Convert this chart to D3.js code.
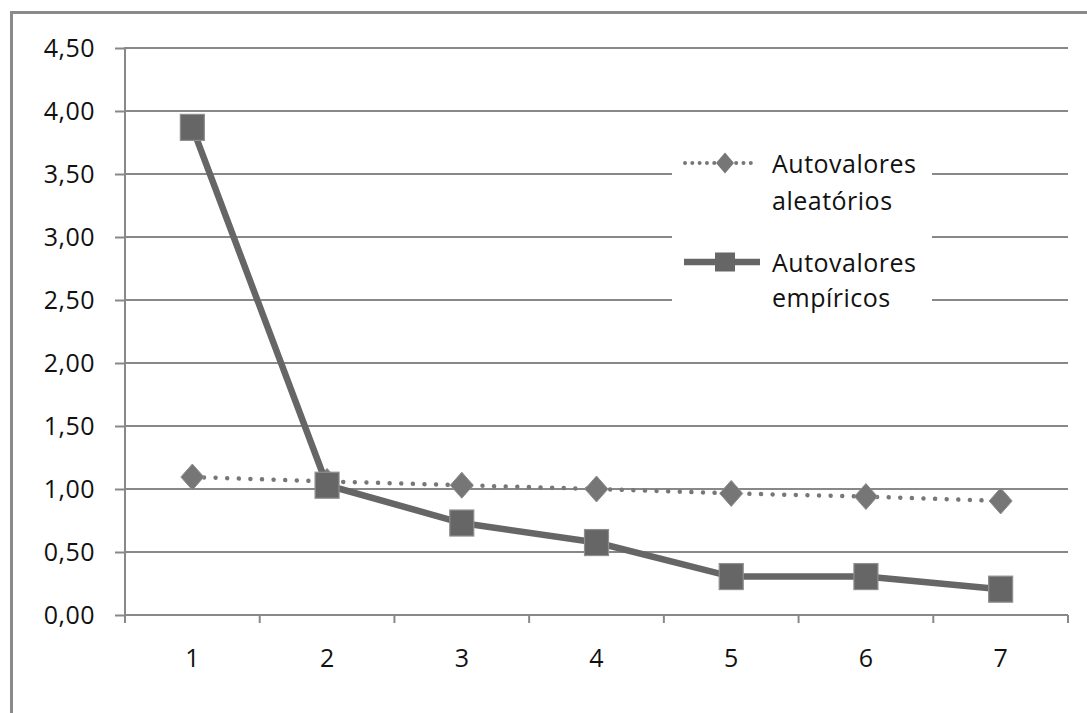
<!DOCTYPE html>
<html>
<head>
<meta charset="utf-8">
<script src="https://cdn.jsdelivr.net/npm/d3@7/dist/d3.min.js"></script>
<style>
  html, body { margin: 0; padding: 0; background: #fff; }
  svg { display: block; }
  text { font-family: "Open Sans", sans-serif; fill: #111; }
</style>
</head>
<body>
<svg id="chart" width="1087" height="713"></svg>
<script>
// ---- data ----
const categories = ["1", "2", "3", "4", "5", "6", "7"];
const randomValues = [1.095, 1.06, 1.03, 1.00, 0.965, 0.94, 0.905];   // Autovalores aleatórios
const empiricalValues = [3.87, 1.03, 0.73, 0.575, 0.305, 0.305, 0.205]; // Autovalores empíricos
const yTicks = [0, 0.5, 1, 1.5, 2, 2.5, 3, 3.5, 4, 4.5];
const legendLabels = [["Autovalores", "aleatórios"], ["Autovalores", "empíricos"]];

// ---- setup ----
const svg = d3.select("#chart");
const W = 1087, H = 713;
const plot = { left: 125, right: 1068, top: 48, bottom: 615 };
const gridColor = "#888888";
const seriesColor = "#666666";

const x = d3.scaleBand().domain(categories).range([plot.left, plot.right]);
const y = d3.scaleLinear().domain([0, 4.5]).range([plot.bottom, plot.top]);

const locale = d3.formatLocale({ decimal: ",", thousands: ".", grouping: [3], currency: ["", ""] });
const fmt = locale.format(".2f");

// outer border (only top/left visible in frame)
svg.append("rect")
  .attr("x", 11.5).attr("y", 12.5)
  .attr("width", W + 20).attr("height", H + 20)
  .attr("fill", "none").attr("stroke", "#8a8a8a").attr("stroke-width", 3);

// gridlines
svg.append("g").selectAll("line")
  .data(yTicks)
  .join("line")
  .attr("x1", plot.left).attr("x2", plot.right)
  .attr("y1", d => y(d)).attr("y2", d => y(d))
  .attr("stroke", gridColor).attr("stroke-width", 2);

// y axis
const yAxis = svg.append("g")
  .attr("transform", `translate(${plot.left},0)`)
  .call(d3.axisLeft(y).tickValues(yTicks).tickFormat(fmt).tickSize(10).tickPadding(20));
yAxis.select(".domain").remove();
yAxis.selectAll(".tick line").attr("stroke", gridColor).attr("stroke-width", 2);
yAxis.selectAll(".tick text")
  .attr("font-size", 25).attr("letter-spacing", 0.5)
  .attr("font-family", "Open Sans, sans-serif").attr("fill", "#111");
svg.append("line")
  .attr("x1", plot.left).attr("x2", plot.left)
  .attr("y1", y(4.5) - 1).attr("y2", plot.bottom + 8)
  .attr("stroke", gridColor).attr("stroke-width", 2);

// x axis
const xAxis = svg.append("g")
  .attr("transform", `translate(0,${plot.bottom})`)
  .call(d3.axisBottom(x).tickSize(0).tickPadding(34));
xAxis.select(".domain").remove();
xAxis.selectAll(".tick text")
  .attr("font-size", 25)
  .attr("font-family", "Open Sans, sans-serif").attr("fill", "#111");
// category boundary ticks
const boundaries = categories.map(c => x(c)).concat([x(categories[categories.length - 1]) + x.bandwidth()]);
svg.append("g").selectAll("line")
  .data(boundaries)
  .join("line")
  .attr("x1", d => d).attr("x2", d => d)
  .attr("y1", plot.bottom).attr("y2", plot.bottom + 8)
  .attr("stroke", gridColor).attr("stroke-width", 2);

const cx = c => x(c) + x.bandwidth() / 2;

// random series (dotted + diamonds)
const line = d3.line().x((d, i) => cx(categories[i])).y(d => y(d));
svg.append("path")
  .datum(randomValues)
  .attr("d", line)
  .attr("fill", "none")
  .attr("stroke", "#777777")
  .attr("stroke-width", 4.5)
  .attr("stroke-linecap", "round")
  .attr("stroke-dasharray", "0.01 11.6");

const diamond = (w, h) => `M0,${-h / 2}L${w / 2},0L0,${h / 2}L${-w / 2},0Z`;
svg.append("g").selectAll("path")
  .data(randomValues)
  .join("path")
  .attr("transform", (d, i) => `translate(${cx(categories[i])},${y(d)})`)
  .attr("d", diamond(23, 26))
  .attr("fill", "#767676")
  .attr("stroke", "#8c8c8c").attr("stroke-width", 1);

// empirical series (solid + squares)
svg.append("path")
  .datum(empiricalValues)
  .attr("d", line)
  .attr("fill", "none")
  .attr("stroke", seriesColor)
  .attr("stroke-width", 6.5);

svg.append("g").selectAll("rect")
  .data(empiricalValues)
  .join("rect")
  .attr("x", (d, i) => cx(categories[i]) - 12)
  .attr("y", d => y(d) - 13)
  .attr("width", 24).attr("height", 26)
  .attr("fill", seriesColor)
  .attr("stroke", "#8f8f8f").attr("stroke-width", 1.2);

// legend
const lg = svg.append("g");
lg.append("rect")
  .attr("x", 672).attr("y", 140).attr("width", 260).attr("height", 180)
  .attr("fill", "#fff");

// entry 1
lg.append("line")
  .attr("x1", 685).attr("x2", 758).attr("y1", 163).attr("y2", 163)
  .attr("stroke", "#777777").attr("stroke-width", 4)
  .attr("stroke-linecap", "round").attr("stroke-dasharray", "0.01 7.3");
lg.append("path")
  .attr("transform", "translate(725,163)")
  .attr("d", diamond(18, 21))
  .attr("fill", "#767676");
// entry 2
lg.append("line")
  .attr("x1", 684).attr("x2", 760).attr("y1", 262).attr("y2", 262)
  .attr("stroke", seriesColor).attr("stroke-width", 6.5);
lg.append("rect")
  .attr("x", 715).attr("y", 252.5).attr("width", 20).attr("height", 19)
  .attr("fill", seriesColor);

const legendBaselines = [[173, 210], [272, 307]];
legendLabels.forEach((lines, i) => {
  lines.forEach((t, j) => {
    lg.append("text")
      .attr("x", 772).attr("y", legendBaselines[i][j])
      .attr("font-size", 25).attr("letter-spacing", 0.5)
      .text(t);
  });
});
</script>
</body>
</html>
